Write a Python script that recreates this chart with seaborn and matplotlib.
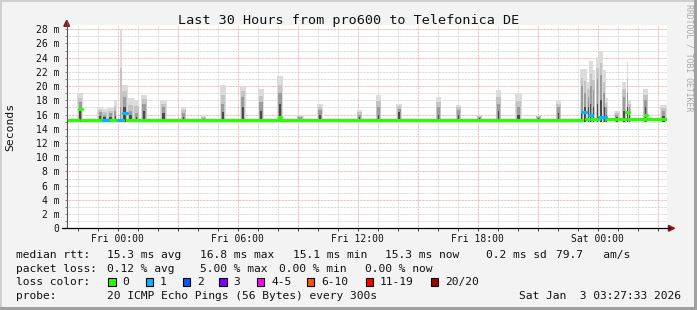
import numpy as np
import pandas as pd
import matplotlib
matplotlib.use("Agg")
import matplotlib.pyplot as plt
import seaborn as sns
from matplotlib.patches import Rectangle, Polygon
from matplotlib.lines import Line2D

# ---------------- data (hours relative to Fri 00:00, values in ms) ----------------
title = "Last 30 Hours from pro600 to Telefonica DE"
t_start, t_end = -2.54, 27.46
xtick_hours = [0, 6, 12, 18, 24]
xtick_labels = ["Fri 00:00", "Fri 06:00", "Fri 12:00", "Fri 18:00", "Sat 00:00"]
ytick_vals = list(range(0, 29, 2))
ytick_labels = ["0"] + [f"{v} m" for v in ytick_vals[1:]]

# smoke spikes: centre hour, width (h), light top, medium top, dark top
spike_h = [-1.87, -0.87, -0.65, -0.35, -0.12, 0.17, 0.35, 0.65, 0.95, 1.33, 2.3, 3.3, 4.3,
           5.27, 6.27, 7.17, 8.13, 9.13, 10.13, 12.1, 13.05, 14.08, 16.05, 17.05, 18.1,
           19.05, 20.05, 21.05, 22.05,
           23.22, 23.38, 23.55, 23.67, 23.8, 24.0, 24.17, 24.33, 24.43,
           24.97, 25.32, 25.5, 25.6, 26.4, 27.3]
spike_w = [0.28, 0.28, 0.35, 0.35, 0.15, 0.08, 0.3, 0.35, 0.28, 0.32, 0.32, 0.28, 0.28,
           0.28, 0.28, 0.3, 0.3, 0.35, 0.3, 0.28, 0.28, 0.28, 0.28, 0.28, 0.28,
           0.28, 0.32, 0.28, 0.28,
           0.17, 0.18, 0.18, 0.16, 0.18, 0.18, 0.18, 0.16, 0.16,
           0.28, 0.22, 0.08, 0.18, 0.28, 0.32]
spike_top = [19.0, 17.0, 16.8, 16.9, 18.0, 28.1, 20.2, 18.3, 18.1, 18.75, 18.0, 17.0, 15.8,
             20.1, 20.0, 19.6, 21.4, 15.9, 17.5, 16.7, 18.75, 17.5, 18.5, 17.4, 16.0,
             19.5, 18.9, 16.0, 18.05,
             22.4, 22.4, 20.6, 23.5, 22.3, 24.1, 24.9, 22.3, 18.3,
             16.5, 20.6, 23.4, 18.0, 19.6, 17.3]
spike_mid = [17.8, 16.3, 16.0, 16.2, 16.5, 17.0, 18.5, 16.5, 16.2, 17.5, 17.0, 16.2, 15.5,
             17.5, 18.5, 17.7, 19.0, 15.6, 16.6, 16.0, 17.0, 16.8, 17.0, 16.7, 15.7,
             17.5, 17.0, 15.7, 17.0,
             20.0, 19.0, 18.5, 20.0, 19.5, 21.0, 21.5, 19.0, 17.0,
             16.0, 18.5, 19.0, 17.0, 18.0, 16.5]
spike_dark = [16.9, 15.8, 15.6, 15.7, 15.8, 16.0, 17.0, 15.9, 15.7, 16.5, 16.2, 15.7, 15.4,
              16.3, 17.0, 16.5, 17.5, 15.4, 16.0, 15.6, 16.0, 16.3, 16.0, 16.0, 15.5,
              16.5, 16.0, 15.5, 16.2,
              16.4, 17.0, 17.0, 17.5, 17.0, 17.5, 18.0, 17.0, 16.0,
              15.6, 16.5, 17.0, 16.0, 17.0, 15.8]

# median rtt as steps: segment start hour, median value, lost pings
seg_start = [-2.54, -1.92, -1.78, -0.73, -0.5, 0.0, 0.2, 0.27, 0.45, 8.08, 8.18,
             23.2, 23.4, 23.55, 23.7, 24.05, 24.4, 25.4, 25.55, 26.35, 26.45]
seg_med = [15.3, 16.8, 15.3, 15.2, 15.3, 15.2, 15.3, 16.2, 15.3, 15.6, 15.3,
           16.3, 15.4, 15.9, 15.4, 15.7, 15.4, 16.3, 15.4, 16.0, 15.4]
seg_loss = [0, 0, 0, 1, 0, 1, 0, 1, 0, 0, 0,
            1, 0, 1, 0, 1, 0, 0, 0, 0, 0]

loss_labels = ["0", "1", "2", "3", "4-5", "6-10", "11-19", "20/20"]
loss_colors = ["#26ff00", "#00b8ff", "#0059ff", "#7e00ff", "#ff00ff", "#ff5500", "#ff0000", "#a10000"]

rtt_stats = ["median rtt:", "15.3 ms avg", "16.8 ms max", "15.1 ms min", "15.3 ms now", "0.2 ms sd", "79.7   am/s"]
loss_stats = ["packet loss:", "0.12 % avg", "5.00 % max", "0.00 % min", "0.00 % now"]
probe_text = ["probe:", "20 ICMP Echo Pings (56 Bytes) every 300s"]
stamp = "Sat Jan  3 03:27:33 2026"

# ---------------- figure ----------------
sns.set_style("white")
plt.rcParams["font.family"] = ["DejaVu Sans Mono"]

W, H = 697, 310
fig = plt.figure(figsize=(W / 100, H / 100), dpi=100)
fig.patch.set_facecolor("#f3f3f3")


def fx(x):
    return x / W


def fy(y):
    return 1 - y / H


X0, X1, Y0, YT = 66.7, 666.7, 228.3, 25.0
ax = fig.add_axes([fx(X0), fy(Y0), (X1 - X0) / W, (Y0 - YT) / H])
ax.set_facecolor("white")
ax.set_xlim(t_start, t_end)
ax.set_ylim(0, 28.6)
for s in ax.spines.values():
    s.set_visible(False)

dot = (0, (0.72, 0.72))
for h in range(-2, 28):
    if h % 3 == 0:
        ax.axvline(h, color="#f4a0a0", lw=0.72, ls=dot, zorder=1)
    else:
        ax.axvline(h, color="#cfcfcf", lw=0.72, ls=dot, zorder=0.9)
for v in range(1, 29):
    if v % 4 == 0:
        ax.axhline(v, color="#f4a0a0", lw=0.72, ls=dot, zorder=1)
    else:
        ax.axhline(v, color="#cfcfcf", lw=0.72, ls=dot, zorder=0.9)

base = 15.0
sp = pd.DataFrame({"h": spike_h, "w": spike_w, "top": spike_top, "mid": spike_mid, "dark": spike_dark})
ax.bar(sp["h"], sp["top"] - base, bottom=base, width=sp["w"], color="#dcdcdc", lw=0, zorder=2)
ax.bar(sp["h"], (sp["mid"] + sp["top"]) / 2 - base, bottom=base, width=sp["w"] * 0.75,
       color="#c4c4c4", lw=0, zorder=2.5)
ax.bar(sp["h"], sp["mid"] - base, bottom=base, width=sp["w"] * 0.55, color="#9c9c9c", lw=0, zorder=3)
ax.bar(sp["h"], sp["dark"] - base, bottom=base, width=sp["w"] * 0.35, color="#4a4a4a", lw=0, zorder=4)

# median: one horizontal piece per step, coloured by packet loss
seg_end = seg_start[1:] + [t_end]
rows = []
for i, (a, b, v, n) in enumerate(zip(seg_start, seg_end, seg_med, seg_loss)):
    rows.append({"seg": i, "h": a, "v": v, "loss": loss_labels[n]})
    rows.append({"seg": i, "h": b, "v": v, "loss": loss_labels[n]})
med = pd.DataFrame(rows)
sns.lineplot(data=med, x="h", y="v", units="seg", hue="loss", estimator=None, sort=False,
             palette=dict(zip(loss_labels, loss_colors)), lw=2.3, ax=ax, legend=False, zorder=5)

ax.set_xlabel("")
ax.set_ylabel("")
ax.set_xticks(xtick_hours)
ax.set_xticklabels(xtick_labels, fontsize=7)
ax.set_xticks(range(-2, 28), minor=True)
ax.set_yticks(ytick_vals)
ax.set_yticklabels(ytick_labels, fontsize=7)
ax.set_yticks(range(0, 29), minor=True)
ax.tick_params(axis="x", which="both", direction="out", length=1.8, width=0.7, color="#444444", pad=2)
ax.tick_params(axis="y", which="both", direction="out", length=1.8, width=0.7, color="#888888", pad=3.6)
ax.tick_params(axis="both", which="both", bottom=True, left=True, labelcolor="#111111")

# axis lines with arrows
fig.add_artist(Line2D([fx(X0), fx(X0)], [fy(Y0), fy(21)], color="#555555", lw=0.8))
fig.add_artist(Line2D([fx(61.7), fx(670)], [fy(Y0), fy(Y0)], color="#000000", lw=0.9))
fig.add_artist(Polygon([[fx(63.8), fy(26.3)], [fx(69.6), fy(26.3)], [fx(66.7), fy(20.3)]],
                       closed=True, color="#8b1a1a", transform=fig.transFigure))
fig.add_artist(Polygon([[fx(668.5), fy(225.4)], [fx(668.5), fy(231.2)], [fx(674.5), fy(228.3)]],
                       closed=True, color="#8b1a1a", transform=fig.transFigure))

# title and labels
fig.text(fx(348.5), fy(24.0), title, ha="center", va="baseline", fontsize=9.7, color="#111111")
fig.text(fx(10.5), fy(127), "Seconds", rotation=90, ha="center", va="center", fontsize=8.2, color="#111111")
fig.text(fx(688.5), fy(4), "RRDTOOL / TOBI OETIKER", rotation=270, ha="center", va="top",
         fontsize=5.9, color="#aaaaaa")

# legend
fs = 8.1
row1_x = [16.0, 106.6, 200.3, 292.6, 385.3, 486.0, 556.0]
for x, t in zip(row1_x, rtt_stats):
    fig.text(fx(x), fy(258.3), t, fontsize=fs, va="baseline", ha="left", color="#111111")
row2_x = [16.0, 106.6, 200.3, 278.6, 365.0]
for x, t in zip(row2_x, loss_stats):
    fig.text(fx(x), fy(271.7), t, fontsize=fs, va="baseline", ha="left", color="#111111")
fig.text(fx(16.0), fy(285.3), "loss color:", fontsize=fs, va="baseline", ha="left", color="#111111")
sq_x = [108.3, 145.7, 182.7, 219.3, 256.7, 306.7, 365.7, 431.0]
for x, lab, c in zip(sq_x, loss_labels, loss_colors):
    fig.add_artist(Rectangle((fx(x), fy(286.3)), 7.3 / W, 8.0 / H, facecolor=c, edgecolor="black",
                             lw=0.8, transform=fig.transFigure))
    fig.text(fx(x + 14.3), fy(285.3), lab, fontsize=fs, va="baseline", ha="left", color="#111111")
fig.text(fx(16.0), fy(298.8), probe_text[0], fontsize=fs, va="baseline", ha="left", color="#111111")
fig.text(fx(106.6), fy(298.8), probe_text[1], fontsize=fs, va="baseline", ha="left", color="#111111")
fig.text(fx(681), fy(298.8), stamp, fontsize=fs, va="baseline", ha="right", color="#111111")

# frame
fig.add_artist(Rectangle((0, fy(2)), 1, 2 / H, facecolor="#cfcfcf", lw=0, transform=fig.transFigure))
fig.add_artist(Rectangle((0, 0), 2 / W, 1, facecolor="#cfcfcf", lw=0, transform=fig.transFigure))
fig.add_artist(Rectangle((0, 0), 1, 3 / H, facecolor="#a0a0a0", lw=0, transform=fig.transFigure))
fig.add_artist(Rectangle((fx(694), 0), 3 / W, 1, facecolor="#a0a0a0", lw=0, transform=fig.transFigure))

fig.savefig("out.png", dpi=100, facecolor=fig.get_facecolor())
